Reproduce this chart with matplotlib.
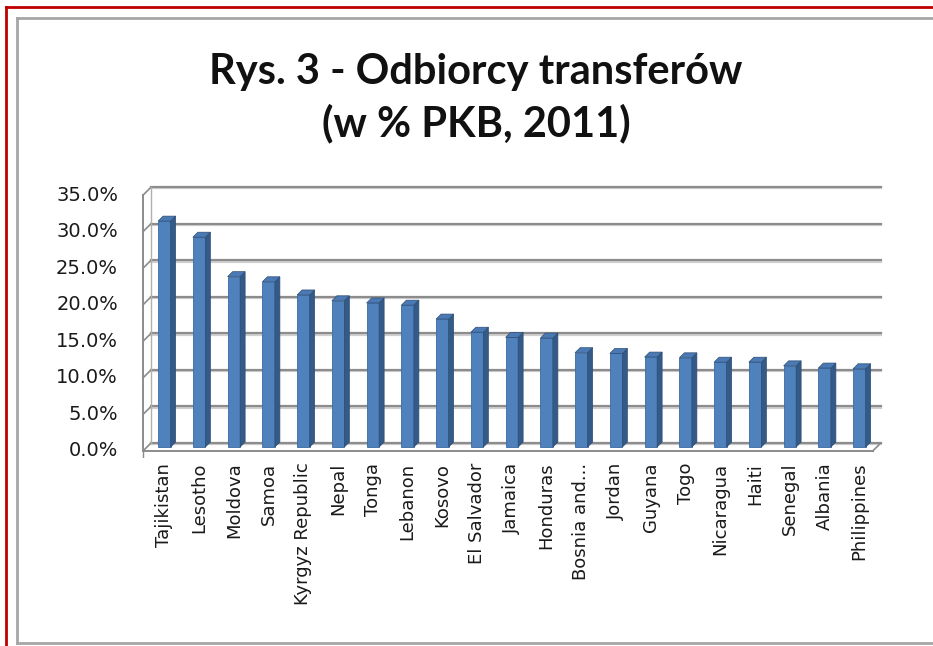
import numpy as np
import matplotlib
matplotlib.use("Agg")
import matplotlib.pyplot as plt
from matplotlib.patches import Polygon
from matplotlib.lines import Line2D

kraje = ["Tajikistan", "Lesotho", "Moldova", "Samoa", "Kyrgyz Republic", "Nepal",
         "Tonga", "Lebanon", "Kosovo", "El Salvador", "Jamaica", "Honduras",
         "Bosnia and...", "Jordan", "Guyana", "Togo", "Nicaragua", "Haiti",
         "Senegal", "Albania", "Philippines"]
transfery = [30.9, 28.7, 23.3, 22.6, 20.8, 20.0, 19.7, 19.4, 17.5, 15.7, 15.0,
             14.9, 12.9, 12.8, 12.3, 12.2, 11.6, 11.6, 11.1, 10.8, 10.7]
ticki = [0, 5, 10, 15, 20, 25, 30, 35]
tytul = "Rys. 3 - Odbiorcy transferów\n(w % PKB, 2011)"

W, H = 933, 646
fig = plt.figure(figsize=(W / 100, H / 100), dpi=100)

# pixel geometry of the front plane
px_x = 34.75          # px per category
px_y = 7.31           # px per percent
x0_px = 143           # left front edge
y0_px = 451           # zero line at front
xlim = (-0.7, 20.9)
ylim = (-1, 37)
left = x0_px + (xlim[0] + 0.5) * px_x
right = x0_px + (xlim[1] + 0.5) * px_x
bottom = y0_px - ylim[0] * px_y
top = y0_px - ylim[1] * px_y
ax = fig.add_axes([left / W, 1 - bottom / H, (right - left) / W, (bottom - top) / H])
ax.set_xlim(xlim)
ax.set_ylim(ylim)
ax.axis("off")

# depth offsets in data units
ox_bar, oy_bar = 4 / px_x, 4 / px_y
ox_back, oy_back = 8 / px_x, 8 / px_y
sx, sy = 5 / px_x, 5 / px_y

grid_c = "#8c8c8c"
n = len(kraje)
xe = -0.5
xr = n - 0.5

# back wall gridlines + side wall
for t in ticki:
    ax.plot([xe + ox_back, xr + ox_back], [t + oy_back - 0.18, t + oy_back - 0.18],
            color="#d0d0d0", lw=1.6, zorder=1)
    ax.plot([xe + ox_back, xr + ox_back], [t + oy_back, t + oy_back], color=grid_c, lw=1.6, zorder=1)
    ax.plot([xe, xe + ox_back], [t, t + oy_back], color=grid_c, lw=1.2, zorder=1)
ax.plot([xe, xe], [0, ticki[-1]], color=grid_c, lw=1.4, zorder=1)
ax.plot([xe + ox_back, xe + ox_back], [oy_back, ticki[-1] + oy_back], color="#b0b0b0", lw=1.0, zorder=1)
# floor
ax.plot([xe, xr], [0, 0], color=grid_c, lw=1.4, zorder=1)
ax.plot([xr, xr + ox_back], [0, oy_back], color=grid_c, lw=1.2, zorder=1)
ax.plot([xe, xe], [-0.9, 0], color=grid_c, lw=1.0, zorder=1)

# bars (front face + side + top)
x = np.arange(n) + ox_bar
w = 0.36
vals = np.array(transfery)
ax.bar(x, vals, width=w, bottom=oy_bar, color="#4f81bd", edgecolor="#3d6aa0",
       linewidth=0.6, zorder=3)
for xi, v in zip(x, vals):
    side = Polygon([(xi + w / 2, oy_bar), (xi + w / 2, v + oy_bar),
                    (xi + w / 2 + sx, v + oy_bar + sy), (xi + w / 2 + sx, oy_bar + sy)],
                   closed=True, facecolor="#345a88", edgecolor="#2c4d75", lw=0.5, zorder=3)
    ax.add_patch(side)
    topf = Polygon([(xi - w / 2, v + oy_bar), (xi + w / 2, v + oy_bar),
                    (xi + w / 2 + sx, v + oy_bar + sy), (xi - w / 2 + sx, v + oy_bar + sy)],
                   closed=True, facecolor="#4a79b3", edgecolor="#2c4d75", lw=0.5, zorder=3)
    ax.add_patch(topf)

# y tick labels (front plane)
for t in ticki:
    ax.text(xe - 25 / px_x, t, "%.1f%%" % t, ha="right", va="center",
            fontsize=14, family="DejaVu Sans", color="#1a1a1a")
# x labels
for xi, k in zip(x, kraje):
    ax.text(xi, -1.6, k, rotation=90, ha="center", va="top",
            fontsize=13, family="DejaVu Sans", color="#1a1a1a")

fig.text(476 / W, 1 - 98 / H, tytul, ha="center", va="center", fontsize=30,
         fontweight="bold", family="Lato", linespacing=1.38, color="#111111")

# frames
fig.add_artist(Line2D([6 / W, 1], [1 - 7 / H, 1 - 7 / H], color="#c00000", lw=2))
fig.add_artist(Line2D([6 / W, 6 / W], [0, 1 - 7 / H], color="#c00000", lw=2))
fig.add_artist(Line2D([17 / W, 1], [1 - 18 / H, 1 - 18 / H], color="#a6a6a6", lw=2))
fig.add_artist(Line2D([17 / W, 17 / W], [1 - 643 / H, 1 - 18 / H], color="#a6a6a6", lw=2))
fig.add_artist(Line2D([17 / W, 1], [1 - 643 / H, 1 - 643 / H], color="#a6a6a6", lw=2))

fig.savefig("out.png", dpi=100)
